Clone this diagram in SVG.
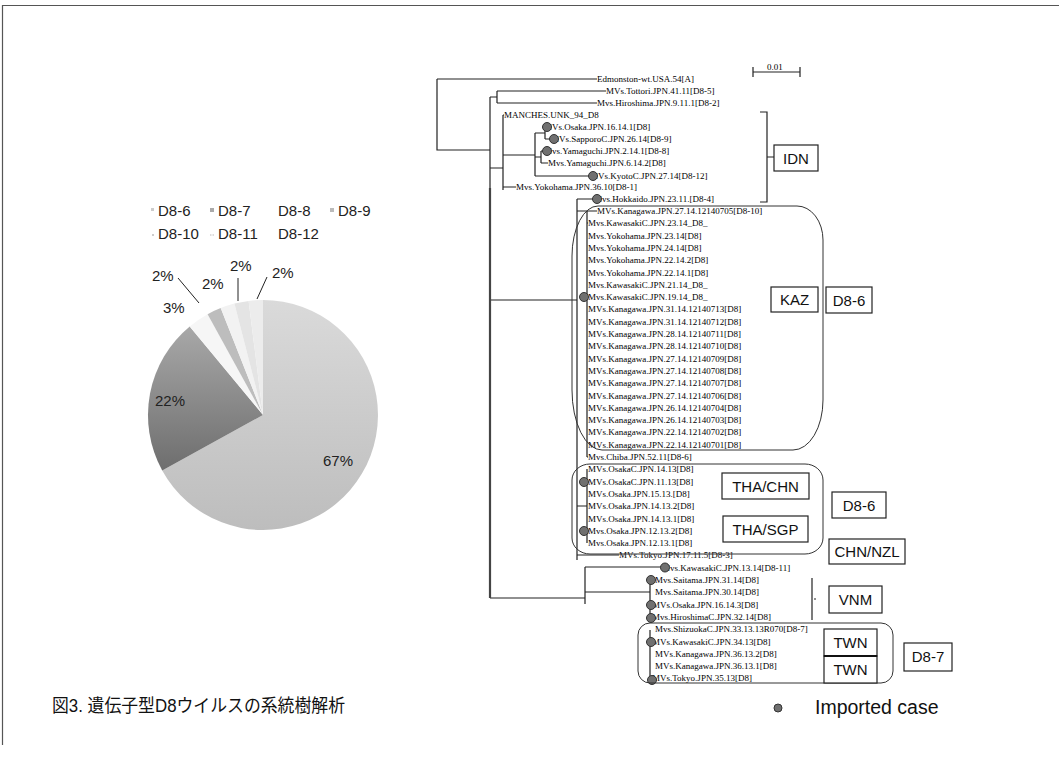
<svg xmlns="http://www.w3.org/2000/svg" width="1059" height="757" viewBox="0 0 1059 757">
<style>
.lf{font-family:"Liberation Serif","Times New Roman",serif;font-size:9px;fill:#000}
.lb{font-family:"Liberation Sans",Arial,sans-serif;font-size:15px;fill:#111}
.bx{fill:#fff;stroke:#222;stroke-width:1.2}
.rr{fill:none;stroke:#333;stroke-width:1}
.tr{fill:none;stroke:#222;stroke-width:1.2}
.dot{fill:#707070;stroke:#333;stroke-width:1}
.pl{font-family:"Liberation Sans",Arial,sans-serif;font-size:15px;fill:#222}
</style>
<defs>
<linearGradient id="g22" x1="0" y1="0" x2="0" y2="1">
<stop offset="0" stop-color="#a8a8a8"/><stop offset="1" stop-color="#6e6e6e"/>
</linearGradient>
<linearGradient id="g67" x1="0" y1="0" x2="0" y2="1">
<stop offset="0" stop-color="#dadada"/><stop offset="1" stop-color="#bdbdbd"/>
</linearGradient>
</defs>
<rect width="1059" height="757" fill="#fff"/>
<path d="M1059,5.5 H2.5 V745" fill="none" stroke="#555" stroke-width="1.2"/>

<g id="pie">
<path d="M263,415 L263,300 A115,115 0 1 1 162.2,470.4 Z" fill="url(#g67)"/>
<path d="M263,415 L162.2,470.4 A115,115 0 0 1 189.7,326.4 Z" fill="url(#g22)"/>
<path d="M263,415 L189.7,326.4 A115,115 0 0 1 207.6,314.2 Z" fill="#f6f6f6"/>
<path d="M263,415 L207.6,314.2 A115,115 0 0 1 220.7,308.1 Z" fill="#bdbdbd"/>
<path d="M263,415 L220.7,308.1 A115,115 0 0 1 234.4,303.6 Z" fill="#f2f2f2"/>
<path d="M263,415 L234.4,303.6 A115,115 0 0 1 248.6,300.9 Z" fill="#e4e4e4"/>
<path d="M263,415 L248.6,300.9 A115,115 0 0 1 263,300 Z" fill="#ececec"/>
<text class="pl" x="155" y="406">22%</text>
<text class="pl" x="323" y="466">67%</text>
<text class="pl" x="163" y="313">3%</text>
<text class="pl" x="152" y="281">2%</text>
<text class="pl" x="202" y="289">2%</text>
<text class="pl" x="230" y="271">2%</text>
<text class="pl" x="272" y="278">2%</text>
<path d="M178,278 L199,303 M238,278 V301 M267,277 L257,299" fill="none" stroke="#222" stroke-width="1"/>
</g>

<g id="legend-pie">
<rect x="151" y="208" width="3" height="3" fill="#ccc"/>
<text class="pl" x="158" y="216">D8-6</text>
<rect x="210" y="208" width="4" height="4" fill="#aaa"/>
<text class="pl" x="218" y="216">D8-7</text>
<text class="pl" x="278" y="216">D8-8</text>
<rect x="330" y="208" width="4" height="4" fill="#bbb"/>
<text class="pl" x="338" y="216">D8-9</text>
<rect x="152" y="234" width="2" height="2" fill="#ccc"/>
<text class="pl" x="158" y="239">D8-10</text>
<path d="M210,235 h5" stroke="#bbb" stroke-width="1" stroke-dasharray="1.5,1"/>
<text class="pl" x="218" y="239">D8-11</text>
<text class="pl" x="278" y="239">D8-12</text>
</g>

<g id="caption">
<text x="52" y="712" font-family="'Liberation Sans','Noto Sans CJK JP',sans-serif" font-size="18" fill="#111" textLength="293" lengthAdjust="spacingAndGlyphs">図3. 遺伝子型D8ウイルスの系統樹解析</text>
</g>

<g id="scale">
<path d="M753,67 V77 M753,72 H800 M800,67 V77" class="tr" stroke-width="1"/>
<text class="lf" x="767" y="70">0.01</text>
</g>

<g id="connectors">
<path class="tr" d="M437,79 H597 M437,79 V150 H490 M490,97 V188 M490,97 H497 M497,91 V103 M497,91 H606 M497,103 H597
M490,168 H503 M503,115 V190 M503,115 H504
M503,155 H535 M535,133 V176 M535,133 H545 M545,127 V139 M545,127 H547 M545,139 H554
M535,157 H541 M541,151 V163 M541,151 H547 M541,163 H548 M535,176 H592
M503,187 H516
M490,300 H577 M577,199 V560 M577,199 H597
M577,211 H587 M587,211 V457 M587,211 H597
M577,506 H587 M587,469 V543
M577,555 H619
M490,598 H585 M585,567 V604 M585,567 H662 M585,592 H650 M650,580 V617 M650,604 H651
M650,630 V679"/>
<path d="M490,188 V598" fill="none" stroke="#444" stroke-width="2.2"/>
<path class="tr" d="M587,223 H588 M587,457 H588"/>
</g>

<g id="leaves">
<text class="lf" x="597" y="82">Edmonston-wt.USA.54[A]</text>
<text class="lf" x="606" y="94">MVs.Tottori.JPN.41.11[D8-5]</text>
<text class="lf" x="597" y="106">Mvs.Hiroshima.JPN.9.11.1[D8-2]</text>
<text class="lf" x="504" y="118">MANCHES.UNK_94_D8</text>
<text class="lf" x="544" y="130">MVs.Osaka.JPN.16.14.1[D8]</text>
<text class="lf" x="551" y="142">MVs.SapporoC.JPN.26.14[D8-9]</text>
<text class="lf" x="544" y="154">Mvs.Yamaguchi.JPN.2.14.1[D8-8]</text>
<text class="lf" x="548" y="166">Mvs.Yamaguchi.JPN.6.14.2[D8]</text>
<text class="lf" x="590" y="179">MVs.KyotoC.JPN.27.14[D8-12]</text>
<text class="lf" x="516" y="190">Mvs.Yokohama.JPN.36.10[D8-1]</text>
<text class="lf" x="594" y="202">Mvs.Hokkaido.JPN.23.11.[D8-4]</text>
<text class="lf" x="597" y="214">MVs.Kanagawa.JPN.27.14.12140705[D8-10]</text>
<text class="lf" x="588" y="226.3">Mvs.KawasakiC.JPN.23.14_D8_</text>
<text class="lf" x="588" y="238.6">Mvs.Yokohama.JPN.23.14[D8]</text>
<text class="lf" x="588" y="250.9">Mvs.Yokohama.JPN.24.14[D8]</text>
<text class="lf" x="588" y="263.2">Mvs.Yokohama.JPN.22.14.2[D8]</text>
<text class="lf" x="588" y="275.5">Mvs.Yokohama.JPN.22.14.1[D8]</text>
<text class="lf" x="588" y="287.8">Mvs.KawasakiC.JPN.21.14_D8_</text>
<text class="lf" x="588" y="300.1">Mvs.KawasakiC.JPN.19.14_D8_</text>
<text class="lf" x="588" y="312.4">MVs.Kanagawa.JPN.31.14.12140713[D8]</text>
<text class="lf" x="588" y="324.7">MVs.Kanagawa.JPN.31.14.12140712[D8]</text>
<text class="lf" x="588" y="337">MVs.Kanagawa.JPN.28.14.12140711[D8]</text>
<text class="lf" x="588" y="349.3">MVs.Kanagawa.JPN.28.14.12140710[D8]</text>
<text class="lf" x="588" y="361.6">MVs.Kanagawa.JPN.27.14.12140709[D8]</text>
<text class="lf" x="588" y="373.9">MVs.Kanagawa.JPN.27.14.12140708[D8]</text>
<text class="lf" x="588" y="386.2">MVs.Kanagawa.JPN.27.14.12140707[D8]</text>
<text class="lf" x="588" y="398.5">MVs.Kanagawa.JPN.27.14.12140706[D8]</text>
<text class="lf" x="588" y="410.8">MVs.Kanagawa.JPN.26.14.12140704[D8]</text>
<text class="lf" x="588" y="423.1">MVs.Kanagawa.JPN.26.14.12140703[D8]</text>
<text class="lf" x="588" y="435.4">MVs.Kanagawa.JPN.22.14.12140702[D8]</text>
<text class="lf" x="588" y="447.7">MVs.Kanagawa.JPN.22.14.12140701[D8]</text>
<text class="lf" x="588" y="460">Mvs.Chiba.JPN.52.11[D8-6]</text>
<text class="lf" x="588" y="472.3">MVs.OsakaC.JPN.14.13[D8]</text>
<text class="lf" x="588" y="484.6">MVs.OsakaC.JPN.11.13[D8]</text>
<text class="lf" x="588" y="496.9">MVs.Osaka.JPN.15.13.[D8]</text>
<text class="lf" x="588" y="509.2">MVs.Osaka.JPN.14.13.2[D8]</text>
<text class="lf" x="588" y="521.5">MVs.Osaka.JPN.14.13.1[D8]</text>
<text class="lf" x="588" y="533.8">Mvs.Osaka.JPN.12.13.2[D8]</text>
<text class="lf" x="588" y="546.1">Mvs.Osaka.JPN.12.13.1[D8]</text>
<text class="lf" x="619" y="558.4">MVs.Tokyo.JPN.17.11.5[D8-3]</text>
<text class="lf" x="662" y="570.7">Mvs.KawasakiC.JPN.13.14[D8-11]</text>
<text class="lf" x="655" y="583">Mvs.Saitama.JPN.31.14[D8]</text>
<text class="lf" x="655" y="595.3">Mvs.Saitama.JPN.30.14[D8]</text>
<text class="lf" x="652" y="607.6">MVs.Osaka.JPN.16.14.3[D8]</text>
<text class="lf" x="652" y="619.9">Mvs.HiroshimaC.JPN.32.14[D8]</text>
<text class="lf" x="655" y="632.2">Mvs.ShizuokaC.JPN.33.13.13R070[D8-7]</text>
<text class="lf" x="652" y="644.5">MVs.KawasakiC.JPN.34.13[D8]</text>
<text class="lf" x="655" y="656.8">MVs.Kanagawa.JPN.36.13.2[D8]</text>
<text class="lf" x="655" y="669.1">MVs.Kanagawa.JPN.36.13.1[D8]</text>
<text class="lf" x="652" y="681.4">MVs.Tokyo.JPN.35.13[D8]</text>
</g>

<g id="imported-dots">
<circle class="dot" cx="547" cy="127" r="4.5"/>
<circle class="dot" cx="554" cy="139" r="4.5"/>
<circle class="dot" cx="547" cy="151" r="4.5"/>
<circle class="dot" cx="593" cy="176" r="4.5"/>
<circle class="dot" cx="597" cy="199" r="4.5"/>
<circle class="dot" cx="584" cy="297" r="4.5"/>
<circle class="dot" cx="584" cy="482" r="4.5"/>
<circle class="dot" cx="584" cy="531" r="4.5"/>
<circle class="dot" cx="665" cy="567.5" r="4.5"/>
<circle class="dot" cx="651" cy="580" r="4.5"/>
<circle class="dot" cx="651" cy="605" r="4.5"/>
<circle class="dot" cx="651" cy="618" r="4.5"/>
<circle class="dot" cx="651" cy="642" r="4.5"/>
<circle class="dot" cx="652" cy="680" r="4.5"/>
</g>

<g id="idn">
<path class="tr" d="M760,112 H767 V202 H760 M767,157 H774"/>
<rect class="bx" x="774" y="145" width="44" height="26"/>
<text class="lb" x="796" y="163.5" text-anchor="middle">IDN</text>
</g>

<g id="kaz-group">
<path class="rr" d="M598,206 H797 A26,34 0 0 1 823,240 V400 A30,50 0 0 1 793,450 H602 A30,60 0 0 1 572,390 V256 A26,50 0 0 1 598,206 Z"/>
<rect class="bx" x="771" y="287" width="47" height="25"/>
<text class="lb" x="794.5" y="305" text-anchor="middle">KAZ</text>
<rect class="bx" x="826" y="287" width="46" height="26"/>
<text class="lb" x="849" y="305.5" text-anchor="middle">D8-6</text>
</g>

<g id="tha-group">
<rect class="rr" x="572" y="464" width="251" height="90" rx="18" ry="16"/>
<rect class="bx" x="722" y="473" width="87" height="26"/>
<text class="lb" x="765.5" y="491.5" text-anchor="middle">THA/CHN</text>
<rect class="bx" x="723" y="516" width="85" height="26"/>
<text class="lb" x="765.5" y="534.5" text-anchor="middle">THA/SGP</text>
<rect class="bx" x="832" y="492" width="54" height="26"/>
<text class="lb" x="859" y="510.5" text-anchor="middle">D8-6</text>
</g>

<g id="chn-nzl">
<rect class="bx" x="829" y="539" width="76" height="25"/>
<text class="lb" x="867" y="557" text-anchor="middle">CHN/NZL</text>
</g>

<g id="vnm">
<path class="tr" d="M812,578 V620" stroke-width="2"/>
<path class="tr" d="M814,599 h2"/>
<rect class="bx" x="829" y="586" width="53" height="27"/>
<text class="lb" x="855.5" y="605" text-anchor="middle">VNM</text>
</g>

<g id="twn-group">
<rect class="rr" x="638" y="623" width="255" height="60" rx="12" ry="12"/>
<rect class="bx" x="824" y="629" width="53" height="27"/>
<text class="lb" x="850.5" y="648" text-anchor="middle">TWN</text>
<rect class="bx" x="824" y="656" width="53" height="27"/>
<text class="lb" x="850.5" y="675" text-anchor="middle">TWN</text>
<path d="M824,656 H877" stroke="#111" stroke-width="2"/>
<rect class="bx" x="904" y="643" width="48" height="28"/>
<text class="lb" x="928" y="662" text-anchor="middle">D8-7</text>
</g>

<g id="legend-imported">
<circle class="dot" cx="778" cy="708" r="4"/>
<text x="815" y="714" font-family="'Liberation Sans',Arial,sans-serif" font-size="19.5" fill="#111">Imported case</text>
</g>
</svg>
